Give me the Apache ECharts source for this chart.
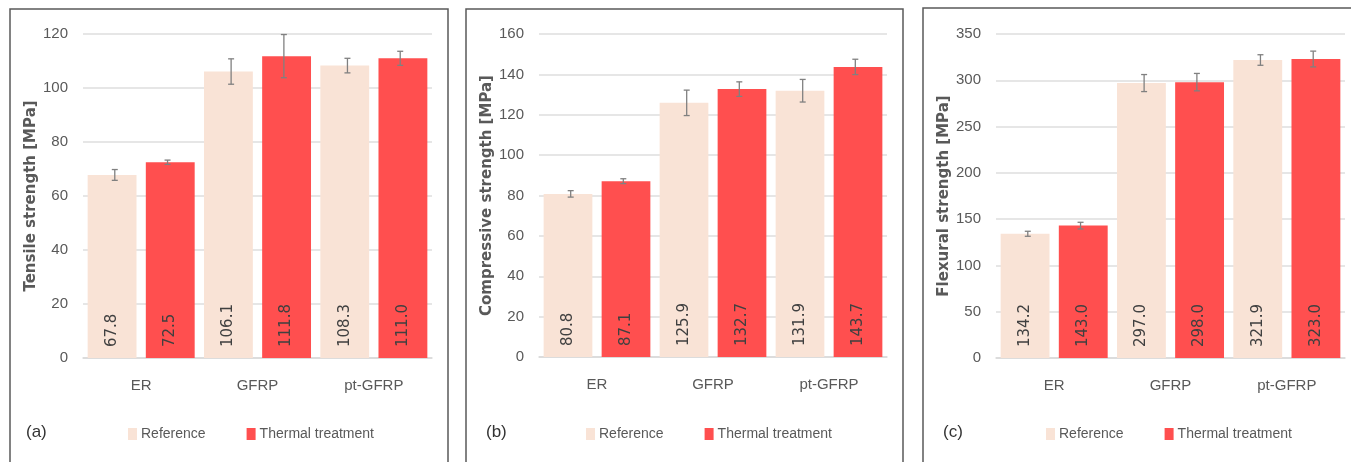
<!DOCTYPE html>
<html>
<head>
<meta charset="utf-8">
<script src="https://cdn.jsdelivr.net/npm/echarts@6/dist/echarts.min.js"></script>
<style>
html,body{margin:0;padding:0;background:#fff;}
#chart{width:1351px;height:462px;}
</style>
</head>
<body>
<div id="chart"></div>
<script>
// ---- data ----
var categories = ['ER', 'GFRP', 'pt-GFRP'];
var seriesNames = ['Reference', 'Thermal treatment'];

var tensileRef = [67.8, 106.1, 108.3];
var tensileRefErr = [2.0, 4.7, 2.7];
var tensileThermal = [72.5, 111.8, 111.0];
var tensileThermalErr = [0.8, 8.0, 2.6];

var compressiveRef = [80.8, 125.9, 131.9];
var compressiveRefErr = [1.6, 6.3, 5.6];
var compressiveThermal = [87.1, 132.7, 143.7];
var compressiveThermalErr = [1.2, 3.6, 3.8];

var flexuralRef = [134.2, 297.0, 321.9];
var flexuralRefErr = [2.7, 9.2, 5.7];
var flexuralThermal = [143.0, 298.0, 323.0];
var flexuralThermalErr = [3.6, 9.4, 8.5];

var yTitles = ['Tensile strength [MPa]', 'Compressive strength [MPa]', 'Flexural strength [MPa]'];
var yMax = [120, 160, 350];
var yInterval = [20, 20, 50];
var panelTags = ['(a)', '(b)', '(c)'];

// ---- layout / style ----
var panels = [
  {ref: tensileRef, refErr: tensileRefErr, th: tensileThermal, thErr: tensileThermalErr},
  {ref: compressiveRef, refErr: compressiveRefErr, th: compressiveThermal, thErr: compressiveThermalErr},
  {ref: flexuralRef, refErr: flexuralRefErr, th: flexuralThermal, thErr: flexuralThermalErr}
];
var gridBoxes = [
  {left: 83, top: 34, width: 349, height: 324},
  {left: 539, top: 34, width: 348, height: 323},
  {left: 996, top: 34, width: 349, height: 324}
];
var frames = [[10, 9, 438], [466, 9, 437], [923, 8, 440]];
var tagX = [26, 486, 943];
var legendLeft = [128, 586, 1046];

var REF_COLOR = '#F9E3D6';
var TH_COLOR = '#FF4F4F';
var TEXT_GRAY = '#595959';
var SANS = '"Liberation Sans", Arial, sans-serif';
var BAR_W = 0.42, BAR_GAP = 0.08;

var chart = echarts.init(document.getElementById('chart'), null, {renderer: 'canvas'});

var grids = [], xAxes = [], yAxes = [], series = [], legends = [], graphics = [];

function errRender(params, api) {
  var cat = api.value(0), val = api.value(1), err = api.value(2), which = api.value(3);
  var band = api.size([1, 0])[0];
  var bw = band * BAR_W;
  var off = (which === 0 ? -1 : 1) * (bw / 2 + bw * BAR_GAP / 2);
  var top = api.coord([cat, val + err]);
  var bot = api.coord([cat, val - err]);
  var x = top[0] + off;
  var cap = 3;
  var style = {stroke: '#808080', lineWidth: 1.3};
  return {
    type: 'group',
    children: [
      {type: 'line', shape: {x1: x, y1: top[1], x2: x, y2: bot[1]}, style: style},
      {type: 'line', shape: {x1: x - cap, y1: top[1], x2: x + cap, y2: top[1]}, style: style},
      {type: 'line', shape: {x1: x - cap, y1: bot[1], x2: x + cap, y2: bot[1]}, style: style}
    ]
  };
}

panels.forEach(function (p, i) {
  var g = gridBoxes[i];
  grids.push({left: g.left, top: g.top, width: g.width, height: g.height, containLabel: false});
  xAxes.push({
    type: 'category', gridIndex: i, data: categories,
    axisTick: {show: false},
    axisLine: {show: true, lineStyle: {color: '#d9d9d9', width: 1.5}},
    axisLabel: {color: TEXT_GRAY, fontFamily: SANS, fontSize: 15, margin: 20}
  });
  yAxes.push({
    type: 'value', gridIndex: i, min: 0, max: yMax[i], interval: yInterval[i],
    name: yTitles[i], nameLocation: 'middle', nameGap: 38, nameRotate: 90,
    nameTextStyle: {color: TEXT_GRAY, fontFamily: 'DejaVu Sans', fontSize: 15, fontWeight: 'bold'},
    axisLine: {show: false}, axisTick: {show: false},
    axisLabel: {color: TEXT_GRAY, fontFamily: SANS, fontSize: 15, margin: 15},
    splitLine: {lineStyle: {color: '#dedede', width: 1.5}}
  });
  var label = {
    show: true, position: 'insideBottom', rotate: 90, align: 'left', verticalAlign: 'middle',
    distance: 11, color: '#404040', fontFamily: 'DejaVu Sans', fontSize: 15,
    formatter: function (d) { return Number(d.value).toFixed(1); }
  };
  series.push({
    name: seriesNames[0], type: 'bar', xAxisIndex: i, yAxisIndex: i,
    data: p.ref, barWidth: (BAR_W * 100) + '%', barGap: (BAR_GAP * 100 / BAR_W) + '%',
    itemStyle: {color: REF_COLOR}, label: label, silent: true
  });
  series.push({
    name: seriesNames[1], type: 'bar', xAxisIndex: i, yAxisIndex: i,
    data: p.th, barWidth: (BAR_W * 100) + '%', barGap: (BAR_GAP * 100 / BAR_W) + '%',
    itemStyle: {color: TH_COLOR}, label: label, silent: true
  });
  var errData = [];
  categories.forEach(function (c, k) {
    errData.push([k, p.ref[k], p.refErr[k], 0]);
    errData.push([k, p.th[k], p.thErr[k], 1]);
  });
  series.push({
    type: 'custom', xAxisIndex: i, yAxisIndex: i, renderItem: errRender,
    data: errData, encode: {x: 0, y: 1}, z: 10, silent: true
  });
  legends.push({
    left: legendLeft[i], top: 427, padding: 0, itemWidth: 9, itemHeight: 12, itemGap: 41,
    icon: 'rect', data: seriesNames, selectedMode: false,
    textStyle: {color: TEXT_GRAY, fontFamily: SANS, fontSize: 14, padding: [0, 0, 0, -1]}
  });
  var f = frames[i];
  graphics.push({
    type: 'rect', shape: {x: f[0], y: f[1], width: f[2], height: 480},
    style: {fill: 'none', stroke: '#5a5a5a', lineWidth: 1.5}, silent: true, z: -1
  });
  graphics.push({
    type: 'text', left: tagX[i], top: 424,
    style: {text: panelTags[i], fill: '#333333', font: '17px ' + SANS}
  });
});

chart.setOption({
  animation: false,
  backgroundColor: '#ffffff',
  grid: grids, xAxis: xAxes, yAxis: yAxes, series: series, legend: legends,
  graphic: graphics
});
</script>
</body>
</html>
